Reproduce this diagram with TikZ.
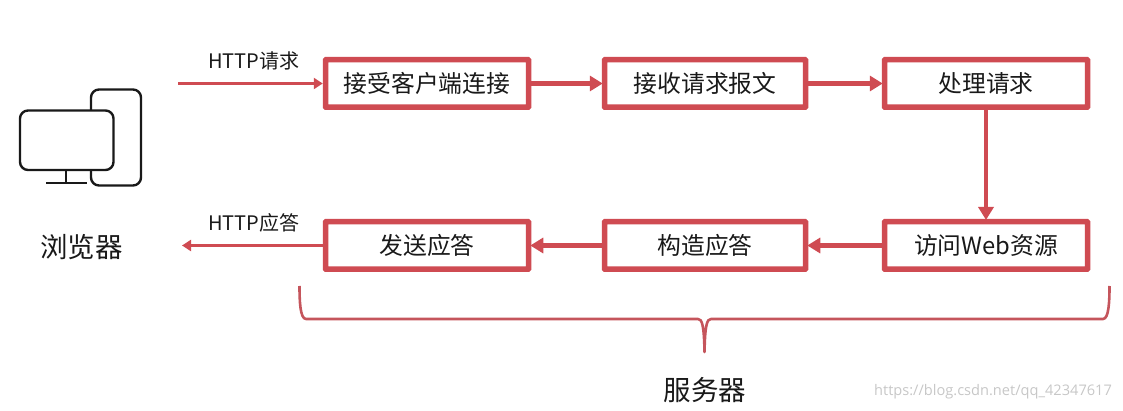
\documentclass[tikz,border=0pt]{standalone}
\usepackage{fontspec}
\setmainfont{Noto Sans CJK SC}
\newfontfamily\latinf{Open Sans}
\usetikzlibrary{arrows.meta}
\definecolor{redc}{HTML}{CF4B52}
\definecolor{bracec}{HTML}{C5555C}
\tikzset{
  x=1pt,y=-1pt,
  stepbox/.style={draw=redc,line width=5.5pt,minimum width=203pt,minimum height=47.5pt,inner sep=0pt,font=\fontsize{23.8}{24}\selectfont,text=black!90,fill=white,rounded corners=0.5pt},
  thick arrow/.style={draw=redc,line width=4.5pt,-{Triangle[length=13pt,width=15pt,fill=redc]},shorten >=-1pt},
  thin arrow/.style={draw=redc,line width=2.2pt,-{Triangle[length=9pt,width=11pt,fill=redc]}},
  small label/.style={font=\fontsize{20}{20}\selectfont,text=black!90,inner sep=0pt},
  big label/.style={font=\fontsize{27.5}{28}\selectfont,text=black!90,inner sep=0pt},
  device/.style={draw=black!90,line width=2.4pt,line join=round},
}
\begin{document}
\begin{tikzpicture}
\useasboundingbox (0,0) rectangle (1123,411);
\node[stepbox] (a) at (427,83.5) {接受客户端连接};
\node[stepbox,minimum width=201pt] (b) at (705,83.5) {接收请求报文};
\node[stepbox] (c) at (986,83.5) {处理请求};
\node[stepbox] (d) at (986,245.5) {访问Web资源};
\node[stepbox,minimum width=201pt] (e) at (705,245.5) {构造应答};
\node[stepbox] (f) at (427,245.5) {发送应答};
\coordinate (in) at (178,83.5);
\coordinate (out) at (182,245.5);
\draw[thin arrow] (in) -- (a.west);
\draw[thick arrow] (a) -- (b);
\draw[thick arrow] (b) -- (c);
\draw[thick arrow] (c) -- (d);
\draw[thick arrow] (d) -- (e);
\draw[thick arrow] (e) -- (f);
\draw[thin arrow] (f) -- (out);
\node[small label] (l1) at (254,61) {HTTP请求};
\node[small label] (l2) at (254,223) {HTTP应答};
\node[big label] (br) at (81.5,247) {浏览器};
\node[big label] (sv) at (705,390.5) {服务器};
\node[font=\fontsize{14.6}{15}\selectfont\latinf,text=black!22,inner sep=0pt] (wm) at (993,392) {https://blog.csdn.net/qq\_42347617};
% device
\draw[device,rounded corners=8pt] (91,110) -- (91,89.5) -- (141,89.5) -- (141,185.5) -- (91,185.5) -- (91,170);
\draw[device,rounded corners=8pt] (20,110.5) rectangle (113.5,170);
\draw[device] (66,170) -- (66,183);
\draw[device] (46,183) -- (87,183);
% brace
\draw[bracec,line width=2.6pt,line join=round] (299.5,286) .. controls (299.5,300) and (300,319) .. (306,319)
  -- (698,319) .. controls (702,319) and (704,325) .. (704.5,352)
  .. controls (705,325) and (707,319) .. (711,319)
  -- (1103,319) .. controls (1109,319) and (1109.5,300) .. (1109.5,286);
\end{tikzpicture}
\end{document}
